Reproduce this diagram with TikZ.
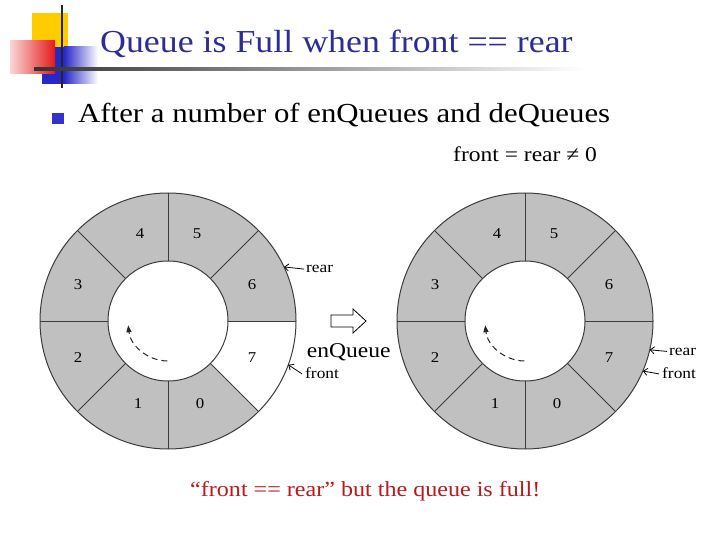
\documentclass[tikz,border=0pt]{standalone}
\usepackage{fontspec}
\setmainfont{Liberation Serif}[FakeStretch=1.12]
\usetikzlibrary{arrows.meta,calc}
\definecolor{titleblue}{RGB}{45,45,150}
\definecolor{bulletblue}{RGB}{51,51,204}
\definecolor{decoyellow}{RGB}{255,204,0}
\definecolor{decored}{RGB}{230,25,25}
\definecolor{decopink}{RGB}{250,215,215}
\definecolor{decoblue}{RGB}{40,40,200}
\definecolor{ringgray}{RGB}{192,192,192}
\definecolor{ringline}{RGB}{60,60,60}
\definecolor{warnred}{RGB}{185,25,30}
\tikzset{
  ringedge/.style={draw=ringline, line width=1pt},
  digit/.style={font=\fontsize{15}{17}\selectfont, inner sep=0pt},
  lbl/.style={font=\fontsize{15.5}{18}\selectfont, anchor=base west, inner sep=0pt},
  ptr/.style={draw=black, line width=0.8pt, -{Straight Barb[length=4pt,width=7pt]}},
  dashedarc/.style={draw=black!85, line width=1pt, dash pattern=on 6pt off 4pt, -{Triangle[length=7pt,width=5pt]}},
}
\begin{document}
\begin{tikzpicture}[x=1pt,y=1pt]
\useasboundingbox (0,0) rectangle (720,-540);
% decoration
\fill[decoyellow] (32,-13) rectangle (68,-47);
\fill[decoblue] (42,-47) rectangle (64,-84);
\shade[left color=decoblue, right color=white] (64,-47) rectangle (98,-84);
\shade[left color=decopink, right color=decored] (10,-41) rectangle (55,-74);
\draw[line width=2pt, black!85] (62,-5) -- (62,-88);
\shade[left color=black!80, right color=white] (34,-67.5) rectangle (585,-70.5);
% title and bullet
\node[anchor=base west, inner sep=0pt, text=titleblue, font=\fontsize{32}{38}\selectfont] (title) at (100,-53) {Queue is Full when front == rear};
\node[fill=bulletblue, minimum size=11.5pt, inner sep=0pt] (bullet) at (58,-118.5) {};
\node[anchor=base west, inner sep=0pt, font=\fontsize{27.5}{32}\selectfont] (line1) at (78,-122.5) {After a number of enQueues and deQueues};
\node[anchor=base west, inner sep=0pt, font=\fontsize{21}{24}\selectfont] (cond) at (453,-161.7) {front = rear ≠ 0};
% rings
\foreach \cx/\p/\white in {168/l/1, 525/r/0}{
  \begin{scope}[shift={(\cx,-321)}]
    \fill[ringgray] (0,0) circle (128);
    \ifnum\white=1
      \fill[white] (0:128) arc[start angle=0,end angle=-45,radius=128] -- (-45:60) arc[start angle=-45,end angle=0,radius=60] -- cycle;
    \fi
    \fill[white] (0,0) circle (60);
    \draw[ringedge] (0,0) circle (128) (0,0) circle (60);
    \foreach \a in {0,45,...,315}{\draw[ringedge] (\a:60) -- (\a:128);}
    \foreach \n/\dx/\dy in {6/84/36, 5/29/87, 4/-28/87, 3/-90/36, 2/-90/-37, 1/-30/-83, 0/32/-83, 7/84/-37}{
      \node[digit] (\p\n) at (\dx,\dy) {\n};
    }
    \coordinate (\p arcstart) at (269:40);
    \draw[dashedarc] (\p arcstart) arc[start angle=269,end angle=186,radius=40];
    \coordinate (\p c) at (0,0);
  \end{scope}
}
% pointers left ring
\coordinate (lreartip) at ($(lc)+(25:128)$);
\coordinate (lfronttip) at ($(lc)+(-20:128)$);
\node[lbl] (lrear) at (306,-272.7) {rear};
\node[lbl] (lfront) at (305,-378.3) {front};
\draw[ptr] ([xshift=-2pt]lrear.west) -- (lreartip);
\draw[ptr] ([xshift=-3pt,yshift=-1pt]lfront.west) -- (lfronttip);
% pointers right ring
\coordinate (rreartip) at ($(rc)+(-13:128)$);
\coordinate (rfronttip) at ($(rc)+(-23:128)$);
\node[lbl] (rrear) at (669,-355) {rear};
\node[lbl] (rfront) at (662,-378.3) {front};
\draw[ptr] ([xshift=-2pt]rrear.west) -- (rreartip);
\draw[ptr] ([xshift=-3pt,yshift=-1pt]rfront.west) -- (rfronttip);
% enQueue arrow
\draw[line width=0.8pt, fill=white] (331,-315) -- (353,-315) -- (353,-309) -- (366,-321) -- (353,-333) -- (353,-327) -- (331,-327) -- cycle;
\node[anchor=base west, inner sep=0pt, font=\fontsize{21}{24}\selectfont] (enq) at (306.7,-357.7) {enQueue};
% bottom remark
\node[anchor=base west, inner sep=0pt, text=warnred, font=\fontsize{21.5}{25}\selectfont] (remark) at (190,-496.7) {“front == rear” but the queue is full!};
\end{tikzpicture}
\end{document}
